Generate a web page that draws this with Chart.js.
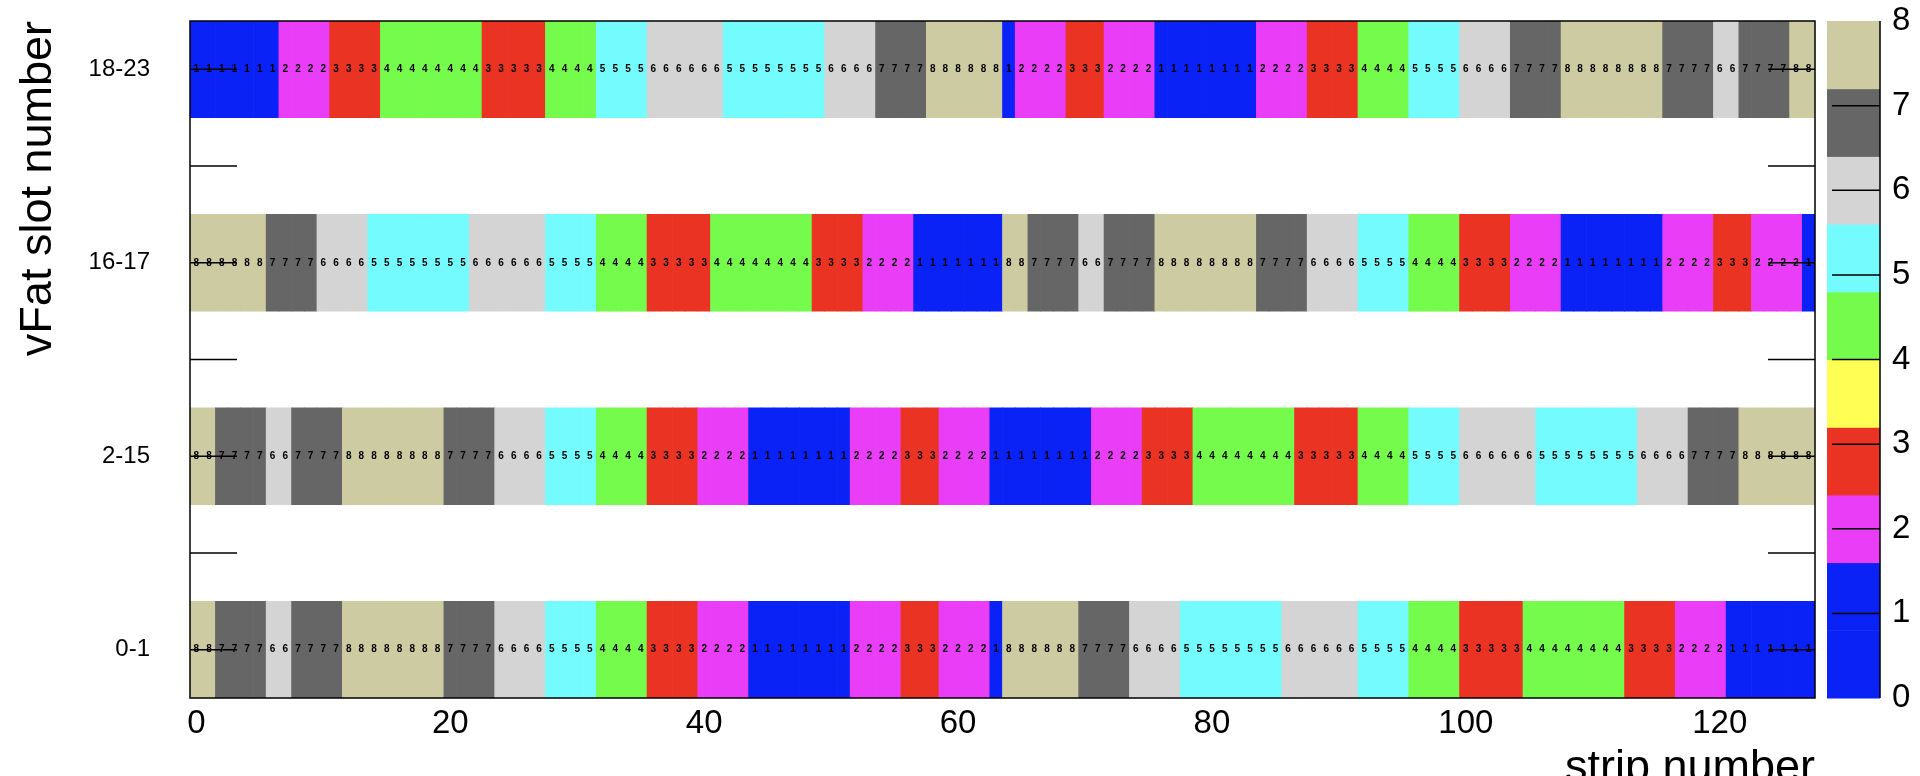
<!DOCTYPE html>
<html>
<head>
<meta charset="utf-8">
<title>vFat slot map</title>
<script src="https://cdn.jsdelivr.net/npm/chart.js@4.4.1/dist/chart.umd.min.js"></script>
<style>
    html, body { margin: 0; padding: 0; background: #fff; }
    canvas { display: block; }
</style>
</head>
<body>
<canvas id="chart" width="1920" height="776"></canvas>
<script>
// y-axis bins, bottom to top (empty bins between the slot groups)
const slotLabels = ['0-1', '', '2-15', '', '16-17', '', '18-23'];

// tick labels
const xTicks = [0, 20, 40, 60, 80, 100, 120];
const zTicks = [0, 1, 2, 3, 4, 5, 6, 7, 8];

// colour palette (contour levels and colours)
const paletteLevels = [0, 0.8, 1.6, 2.4, 3.2, 4.0, 4.8, 5.6, 6.4, 7.2, 8];
const paletteColors = ['#0a22f5', '#0a22f5', '#ea3df7', '#ea3323', '#fffe55',
                       '#75fb4c', '#74fbfd', '#d4d4d4', '#666666', '#cdcba1'];

// values per strip (0..127) for each vFat slot group
const vfat_0_1 = [
    8,8, 7,7,7,7, 6,6, 7,7,7,7, 8,8,8,8,8,8,8,8, 7,7,7,7, 6,6,6,6, 5,5,5,5,
    4,4,4,4, 3,3,3,3, 2,2,2,2, 1,1,1,1,1,1,1,1, 2,2,2,2, 3,3,3, 2,2,2,2, 1,
    8,8,8,8,8,8, 7,7,7,7, 6,6,6,6, 5,5,5,5,5,5,5,5, 6,6,6,6,6,6, 5,5,5,5,
    4,4,4,4, 3,3,3,3,3, 4,4,4,4,4,4,4,4, 3,3,3,3, 2,2,2,2, 1,1,1,1,1,1,1
];
const vfat_2_15 = [
    8,8, 7,7,7,7, 6,6, 7,7,7,7, 8,8,8,8,8,8,8,8, 7,7,7,7, 6,6,6,6, 5,5,5,5,
    4,4,4,4, 3,3,3,3, 2,2,2,2, 1,1,1,1,1,1,1,1, 2,2,2,2, 3,3,3, 2,2,2,2,
    1,1,1,1,1,1,1,1, 2,2,2,2, 3,3,3,3, 4,4,4,4,4,4,4,4, 3,3,3,3,3, 4,4,4,4,
    5,5,5,5, 6,6,6,6,6,6, 5,5,5,5,5,5,5,5, 6,6,6,6, 7,7,7,7, 8,8,8,8,8,8
];
const vfat_16_17 = [
    8,8,8,8,8,8, 7,7,7,7, 6,6,6,6, 5,5,5,5,5,5,5,5, 6,6,6,6,6,6, 5,5,5,5,
    4,4,4,4, 3,3,3,3,3, 4,4,4,4,4,4,4,4, 3,3,3,3, 2,2,2,2, 1,1,1,1,1,1,1,
    8,8, 7,7,7,7, 6,6, 7,7,7,7, 8,8,8,8,8,8,8,8, 7,7,7,7, 6,6,6,6, 5,5,5,5,
    4,4,4,4, 3,3,3,3, 2,2,2,2, 1,1,1,1,1,1,1,1, 2,2,2,2, 3,3,3, 2,2,2,2, 1
];
const vfat_18_23 = [
    1,1,1,1,1,1,1, 2,2,2,2, 3,3,3,3, 4,4,4,4,4,4,4,4, 3,3,3,3,3, 4,4,4,4,
    5,5,5,5, 6,6,6,6,6,6, 5,5,5,5,5,5,5,5, 6,6,6,6, 7,7,7,7, 8,8,8,8,8,8,
    1, 2,2,2,2, 3,3,3, 2,2,2,2, 1,1,1,1,1,1,1,1, 2,2,2,2, 3,3,3,3, 4,4,4,4,
    5,5,5,5, 6,6,6,6, 7,7,7,7, 8,8,8,8,8,8,8,8, 7,7,7,7, 6,6, 7,7,7,7, 8,8
];

const rows = [
    { label: '0-1', values: vfat_0_1 },
    { label: '2-15', values: vfat_2_15 },
    { label: '16-17', values: vfat_16_17 },
    { label: '18-23', values: vfat_18_23 }
];

const FONT = '"Liberation Sans", Arial, Helvetica, sans-serif';

// Palette colour for a value
function colorFor(v) {
    for (let i = paletteColors.length - 1; i >= 0; i--) {
        if (v >= paletteLevels[i]) return paletteColors[i];
    }
    return paletteColors[0];
}

// Numbers written inside each cell
const cellText = {
    id: 'cellText',
    afterDatasetsDraw(chart) {
        const ctx = chart.ctx;
        ctx.save();
        ctx.font = 'bold 10px ' + FONT;
        ctx.fillStyle = '#000';
        ctx.textAlign = 'center';
        ctx.textBaseline = 'middle';
        chart.data.datasets.forEach((ds, d) => {
            chart.getDatasetMeta(d).data.forEach((bar, i) => {
                ctx.fillText(String(ds.values[i]), bar.x, (bar.y + bar.base) / 2);
            });
        });
        ctx.restore();
    }
};

// Frame, inner y ticks and the colour palette
const frame = {
    id: 'frame',
    afterDraw(chart) {
        const { ctx, chartArea: a, scales: { y, z } } = chart;
        ctx.save();
        ctx.strokeStyle = '#000';
        ctx.lineWidth = 1.5;

        ctx.beginPath();
        slotLabels.forEach((_, b) => {
            const py = y.getPixelForValue(b);
            ctx.moveTo(a.left, py);
            ctx.lineTo(a.left + 47, py);
            ctx.moveTo(a.right, py);
            ctx.lineTo(a.right - 47, py);
        });
        ctx.stroke();
        ctx.strokeRect(a.left, a.top, a.right - a.left, a.bottom - a.top);

        const x0 = z.left + 12;
        const x1 = z.left + 65;
        paletteColors.forEach((c, i) => {
            const top = z.getPixelForValue(paletteLevels[i + 1]);
            const bot = z.getPixelForValue(paletteLevels[i]);
            ctx.fillStyle = c;
            ctx.fillRect(x0, top, x1 - x0, bot - top + 0.5);
        });
        ctx.beginPath();
        ctx.moveTo(x1, z.top);
        ctx.lineTo(x1, z.bottom);
        zTicks.slice(1, -1).forEach(v => {
            const py = z.getPixelForValue(v);
            ctx.moveTo(x1, py);
            ctx.lineTo(x1 - 48, py);
        });
        ctx.stroke();
        ctx.restore();
    }
};

const datasets = rows.map(row => {
    const bin = slotLabels.indexOf(row.label);
    return {
        label: row.label,
        values: row.values,
        data: row.values.map((v, i) => ({ x: i, y: [bin - 0.5, bin + 0.5] })),
        backgroundColor: row.values.map(colorFor),
        borderWidth: 0,
        grouped: false,
        barPercentage: 1,
        categoryPercentage: 1
    };
});

new Chart(document.getElementById('chart').getContext('2d'), {
    type: 'bar',
    data: { datasets },
    options: {
        responsive: false,
        animation: false,
        devicePixelRatio: 1,
        events: [],
        layout: { padding: { top: 21, left: 0, right: 0, bottom: 0 } },
        plugins: {
            legend: { display: false },
            tooltip: { enabled: false }
        },
        scales: {
            x: {
                type: 'linear',
                min: -0.5,
                max: 127.5,
                offset: false,
                grid: { display: false, drawTicks: true, tickLength: 6 },
                border: { display: false },
                afterBuildTicks: s => { s.ticks = xTicks.map(v => ({ value: v })); },
                afterFit: s => { s.height = 78; },
                ticks: {
                    padding: 0,
                    autoSkip: false,
                    maxRotation: 0,
                    color: '#000',
                    font: { family: FONT, size: 33 }
                },
                title: {
                    display: true,
                    text: 'strip number',
                    align: 'end',
                    color: '#000',
                    font: { family: FONT, size: 45 },
                    padding: { top: 0, bottom: -20 }
                }
            },
            y: {
                type: 'linear',
                min: -0.5,
                max: 6.5,
                grid: { display: false, drawTicks: true, tickLength: 40 },
                border: { display: false },
                afterBuildTicks: s => { s.ticks = slotLabels.map((_, b) => ({ value: b })); },
                afterFit: s => { s.width = 190; },
                ticks: {
                    padding: 0,
                    autoSkip: false,
                    color: '#000',
                    font: { family: FONT, size: 24 },
                    callback: v => slotLabels[v] || ''
                },
                title: {
                    display: true,
                    text: 'vFat slot number',
                    align: 'end',
                    color: '#000',
                    font: { family: FONT, size: 45 },
                    padding: { top: 12, bottom: 0 }
                }
            },
            z: {
                type: 'linear',
                position: 'right',
                min: 0,
                max: 8,
                grid: { display: false, drawTicks: true, tickLength: 77 },
                border: { display: false },
                afterBuildTicks: s => { s.ticks = zTicks.map(v => ({ value: v })); },
                afterFit: s => { s.width = 105; },
                ticks: {
                    padding: 0,
                    autoSkip: false,
                    color: '#000',
                    font: { family: FONT, size: 33 }
                }
            }
        }
    },
    plugins: [cellText, frame]
});
</script>
</body>
</html>
